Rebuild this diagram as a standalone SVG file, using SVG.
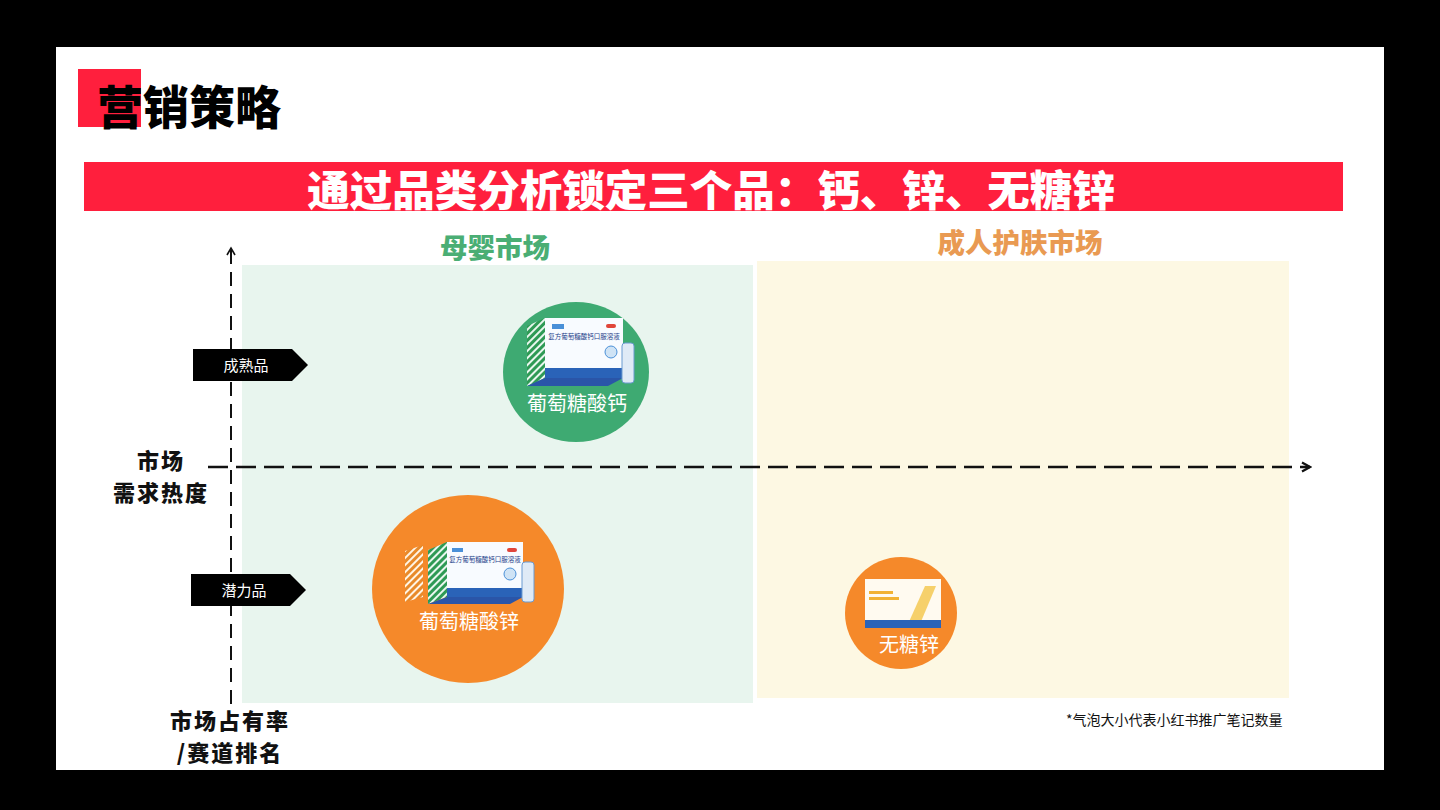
<svg xmlns="http://www.w3.org/2000/svg" width="1440" height="810" viewBox="0 0 1440 810">
<defs>
<style>
.cjk{font-family:"Noto Sans CJK SC","Noto Sans",sans-serif;}
.b{font-weight:900;}
.tag text{fill:#fff;font-size:15px;}
.lbl{fill:#fff;font-size:20px;}
.axis{stroke:#111;fill:none;}
</style>
<pattern id="stripeG" width="5" height="5" patternUnits="userSpaceOnUse" patternTransform="rotate(45)">
<rect width="5" height="5" fill="#2e9a55"/><rect width="2" height="5" fill="#e8f6ee"/>
</pattern>
<pattern id="stripeO" width="5" height="5" patternUnits="userSpaceOnUse" patternTransform="rotate(45)">
<rect width="5" height="5" fill="#e88a2a"/><rect width="2" height="5" fill="#fff4e4"/>
</pattern>
<marker id="arrUp" viewBox="0 0 12 12" refX="10" refY="6" markerWidth="12" markerHeight="12" markerUnits="userSpaceOnUse" orient="auto">
<path d="M3,2 L10,6 L3,10" fill="none" stroke="#111" stroke-width="1.6"/>
</marker>
<marker id="chev" viewBox="0 0 12 12" refX="10" refY="6" markerWidth="12" markerHeight="12" markerUnits="userSpaceOnUse" orient="auto">
<path d="M2,1.5 L10,6 L2,10.5" fill="none" stroke="#111" stroke-width="2.2"/>
</marker>
</defs>
<rect width="1440" height="810" fill="#000"/>
<rect x="56" y="47" width="1328" height="723" fill="#fff"/>

<g id="header">
<rect x="78" y="69" width="63" height="58" fill="#ff1f3d"/>
<text x="97" y="124" class="cjk b" font-size="46" fill="#000">营销策略</text>
<rect x="84" y="162" width="1259" height="49" fill="#ff1f3d"/>
<text x="711" y="206" class="cjk b" font-size="42.5" fill="#fff" text-anchor="middle">通过品类分析锁定三个品：钙、锌、无糖锌</text>
</g>

<g id="regions">
<rect x="242" y="265" width="511" height="438" fill="#e8f5ee"/>
<rect x="757" y="261" width="532" height="437" fill="#fdf8e3"/>
<text x="495" y="258" class="cjk b" font-size="27.5" fill="#4aae74" text-anchor="middle">母婴市场</text>
<text x="1020" y="253" class="cjk b" font-size="27.5" fill="#e99a52" text-anchor="middle">成人护肤市场</text>
</g>

<g id="connectors">
<line x1="231" y1="704" x2="231" y2="248" class="axis" stroke-width="2" stroke-dasharray="14 8" marker-end="url(#arrUp)"/>
<line x1="208" y1="467" x2="1310" y2="467" class="axis" stroke-width="2.4" stroke-dasharray="20 8" marker-end="url(#chev)"/>
</g>

<g id="axis-labels" class="cjk b" font-size="22" fill="#111" text-anchor="middle" letter-spacing="2">
<text x="161" y="469">市场</text>
<text x="161" y="501">需求热度</text>
<text x="230" y="729">市场占有率</text>
<text x="230" y="761">/赛道排名</text>
</g>

<g id="tag-mature" class="tag cjk">
<path d="M193,349 H292 L308,365 L292,381 H193 Z" fill="#000"/>
<text x="246" y="371" text-anchor="middle">成熟品</text>
</g>
<g id="tag-potential" class="tag cjk">
<path d="M191,574 H290 L306,590 L290,606 H191 Z" fill="#000"/>
<text x="244" y="596" text-anchor="middle">潜力品</text>
</g>

<g id="node-calcium">
<ellipse cx="576" cy="372" rx="73" ry="70" fill="#3eaa72"/>
<polygon points="527,326 545,318 545,378 527,386" fill="url(#stripeG)"/>
<rect x="545" y="318" width="78" height="60" fill="#f8fbff"/>
<rect x="545" y="368" width="78" height="10" fill="#2a63b8"/>
<polygon points="527,386 545,378 623,378 608,386" fill="#2a55a8"/>
<rect x="552" y="324" width="12" height="5" fill="#4a90d8"/>
<rect x="606" y="324" width="10" height="4" rx="2" fill="#e0453a"/>
<text x="584" y="339" class="cjk" font-size="6.5" fill="#1d3f8a" text-anchor="middle">复方葡萄糖酸钙口服溶液</text>
<circle cx="611" cy="352" r="6" fill="#cfe3f5" stroke="#4a90d8"/>
<rect x="622" y="343" width="12" height="40" rx="3" fill="#dfeaf6" stroke="#6a9ad0"/>
<text x="577" y="411" class="cjk lbl" text-anchor="middle">葡萄糖酸钙</text>
</g>

<g id="node-zinc">
<ellipse cx="468" cy="589" rx="96" ry="94" fill="#f5892a"/>
<polygon points="405,551 423,545 423,597 405,602" fill="url(#stripeO)"/>
<polygon points="428,550 447,542 447,597 428,604" fill="url(#stripeG)"/>
<rect x="447" y="542" width="76" height="55" fill="#f8fbff"/>
<rect x="447" y="588" width="76" height="9" fill="#2a63b8"/>
<polygon points="428,604 447,597 523,597 510,604" fill="#2a55a8"/>
<rect x="452" y="548" width="11" height="4" fill="#4a90d8"/>
<rect x="507" y="548" width="10" height="4" rx="2" fill="#e0453a"/>
<text x="485" y="562" class="cjk" font-size="6.5" fill="#1d3f8a" text-anchor="middle">复方葡萄糖酸钙口服溶液</text>
<circle cx="510" cy="574" r="6" fill="#cfe3f5" stroke="#4a90d8"/>
<rect x="522" y="562" width="12" height="40" rx="3" fill="#dfeaf6" stroke="#6a9ad0"/>
<text x="469" y="629" class="cjk lbl" text-anchor="middle">葡萄糖酸锌</text>
</g>

<g id="node-sugarfree">
<circle cx="901" cy="613" r="56" fill="#f5892a"/>
<rect x="865" y="579" width="76" height="45" fill="#fffaf0"/>
<polygon points="908,624 925,586 936,586 920,624" fill="#f4c64a" opacity="0.8"/>
<rect x="869" y="591" width="24" height="3" fill="#f2b233"/>
<rect x="869" y="597" width="30" height="3" fill="#f2b233"/>
<rect x="865" y="620" width="76" height="8" fill="#2a63b8"/>
<text x="909" y="652" class="cjk lbl" text-anchor="middle">无糖锌</text>
</g>

<g id="footnote">
<text x="1066" y="725" class="cjk" font-size="14" fill="#111">*气泡大小代表小红书推广笔记数量</text>
</g>
</svg>
